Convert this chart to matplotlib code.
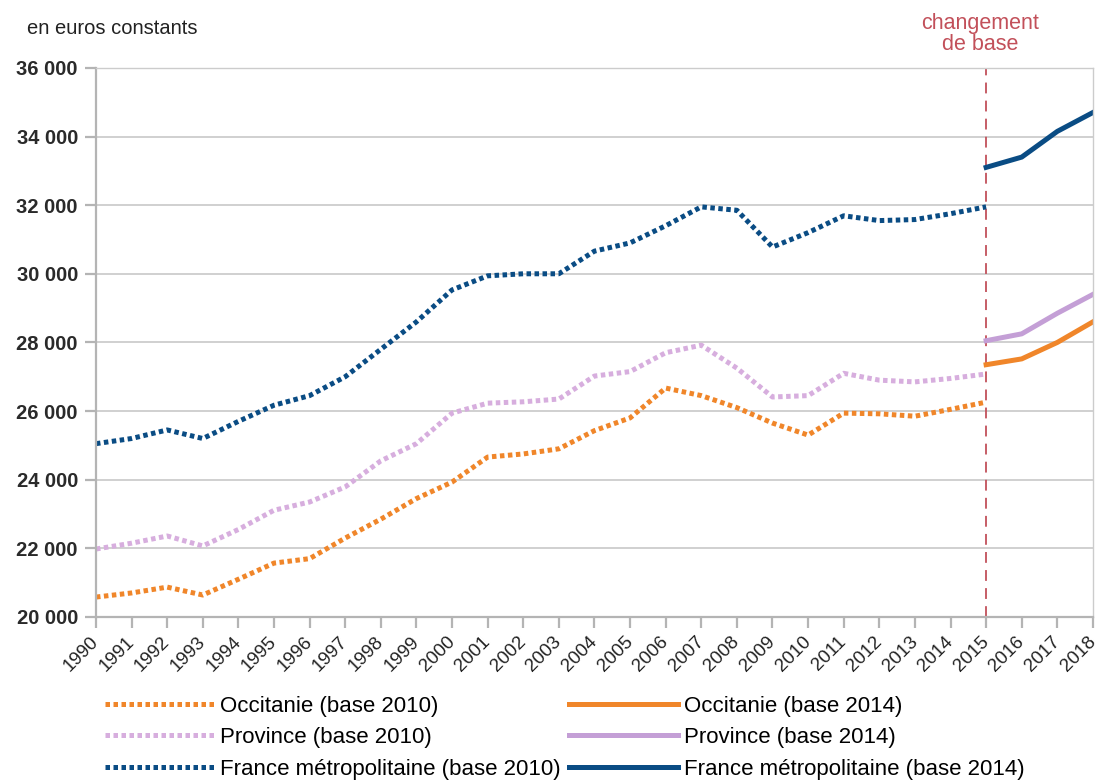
import numpy as np
import matplotlib
matplotlib.use('Agg')
import matplotlib.pyplot as plt

plt.rcParams['font.family'] = ['Liberation Sans', 'DejaVu Sans']

# Data
years = list(range(1990, 2019))
years_2010 = list(range(1990, 2016))
years_2014 = [2015, 2016, 2017, 2018]

occitanie_2010 = [20580, 20700, 20870, 20640, 21100, 21570, 21700, 22300, 22850, 23450,
                  23930, 24660, 24750, 24900, 25430, 25800, 26670, 26450, 26100, 25650,
                  25300, 25940, 25920, 25850, 26050, 26260]
province_2010 = [21980, 22150, 22360, 22070, 22550, 23110, 23350, 23790, 24550, 25050,
                 25940, 26230, 26270, 26350, 27020, 27150, 27700, 27920, 27250, 26410,
                 26450, 27100, 26900, 26850, 26950, 27080]
france_2010 = [25050, 25200, 25450, 25200, 25700, 26170, 26450, 27000, 27800, 28600,
               29530, 29940, 30000, 30000, 30660, 30900, 31400, 31950, 31850, 30780,
               31200, 31690, 31550, 31580, 31750, 31950]

occitanie_2014 = [27350, 27520, 28000, 28600]
province_2014 = [28050, 28250, 28850, 29400]
france_2014 = [33100, 33400, 34150, 34700]

col_orange = '#f0862a'
col_purple_dot = '#d7aede'
col_purple = '#c49fd6'
col_blue = '#0a4c84'
col_red = '#c2505a'

fig = plt.figure(figsize=(10.98, 7.8), dpi=100)
ax = fig.add_axes([0.0874, 0.209, 0.908, 0.704])

dot = (0, (0.9, 0.7))
lw = 3.6
ax.plot(years_2010, occitanie_2010, color=col_orange, ls=dot, lw=lw, label='Occitanie (base 2010)')
ax.plot(years_2014, occitanie_2014, color=col_orange, lw=lw, label='Occitanie (base 2014)')
ax.plot(years_2010, province_2010, color=col_purple_dot, ls=dot, lw=lw, label='Province (base 2010)')
ax.plot(years_2014, province_2014, color=col_purple, lw=lw, label='Province (base 2014)')
ax.plot(years_2010, france_2010, color=col_blue, ls=dot, lw=lw, label='France métropolitaine (base 2010)')
ax.plot(years_2014, france_2014, color=col_blue, lw=lw, label='France métropolitaine (base 2014)')

ax.axvline(2015, color=col_red, ls=(0, (6, 4)), lw=1.3, zorder=1)
fig.text(980 / 1098, 1 - 34 / 780, 'changement\nde base', color=col_red, ha='center', va='center',
         fontsize=15.5, linespacing=1.0)

ax.set_xlim(1990, 2018)
ax.set_ylim(20000, 36000)
ax.set_yticks(np.arange(20000, 36001, 2000))
ax.set_yticklabels([f'{v // 1000} 000' for v in range(20000, 36001, 2000)],
                   fontsize=14.5, fontweight='bold', color='#2a2a2a')
ax.set_xticks(years)
ax.set_xticklabels([str(y) for y in years], rotation=45, ha='right', va='center',
                   rotation_mode='anchor', fontsize=13.5, color='#222222')

ax.grid(axis='y', color='#c8c8c8', lw=1.2)
ax.set_axisbelow(True)
for side in ['left', 'bottom']:
    ax.spines[side].set_color('#b4b4b4')
    ax.spines[side].set_linewidth(1.6)
for side in ['top', 'right']:
    ax.spines[side].set_color('#cccccc')
    ax.spines[side].set_linewidth(1.0)
ax.tick_params(axis='both', color='#b4b4b4', width=1.6, length=8)
ax.tick_params(axis='x', pad=8)
ax.tick_params(axis='y', pad=5)

fig.text(27 / 1098, 1 - 29 / 780, 'en euros constants', fontsize=14.5, color='#222222', va='center')

handles, labels = ax.get_legend_handles_labels()
order = [0, 2, 4, 1, 3, 5]
leg = fig.legend([handles[i] for i in order], [labels[i] for i in order],
                 loc='upper left', bbox_to_anchor=(0.0955, 0.108), ncol=2, frameon=False,
                 fontsize=16, handlelength=4.9, handletextpad=0.3, columnspacing=0.35,
                 labelspacing=0.47, borderaxespad=0, borderpad=0)

fig.savefig('out.png', dpi=100)
